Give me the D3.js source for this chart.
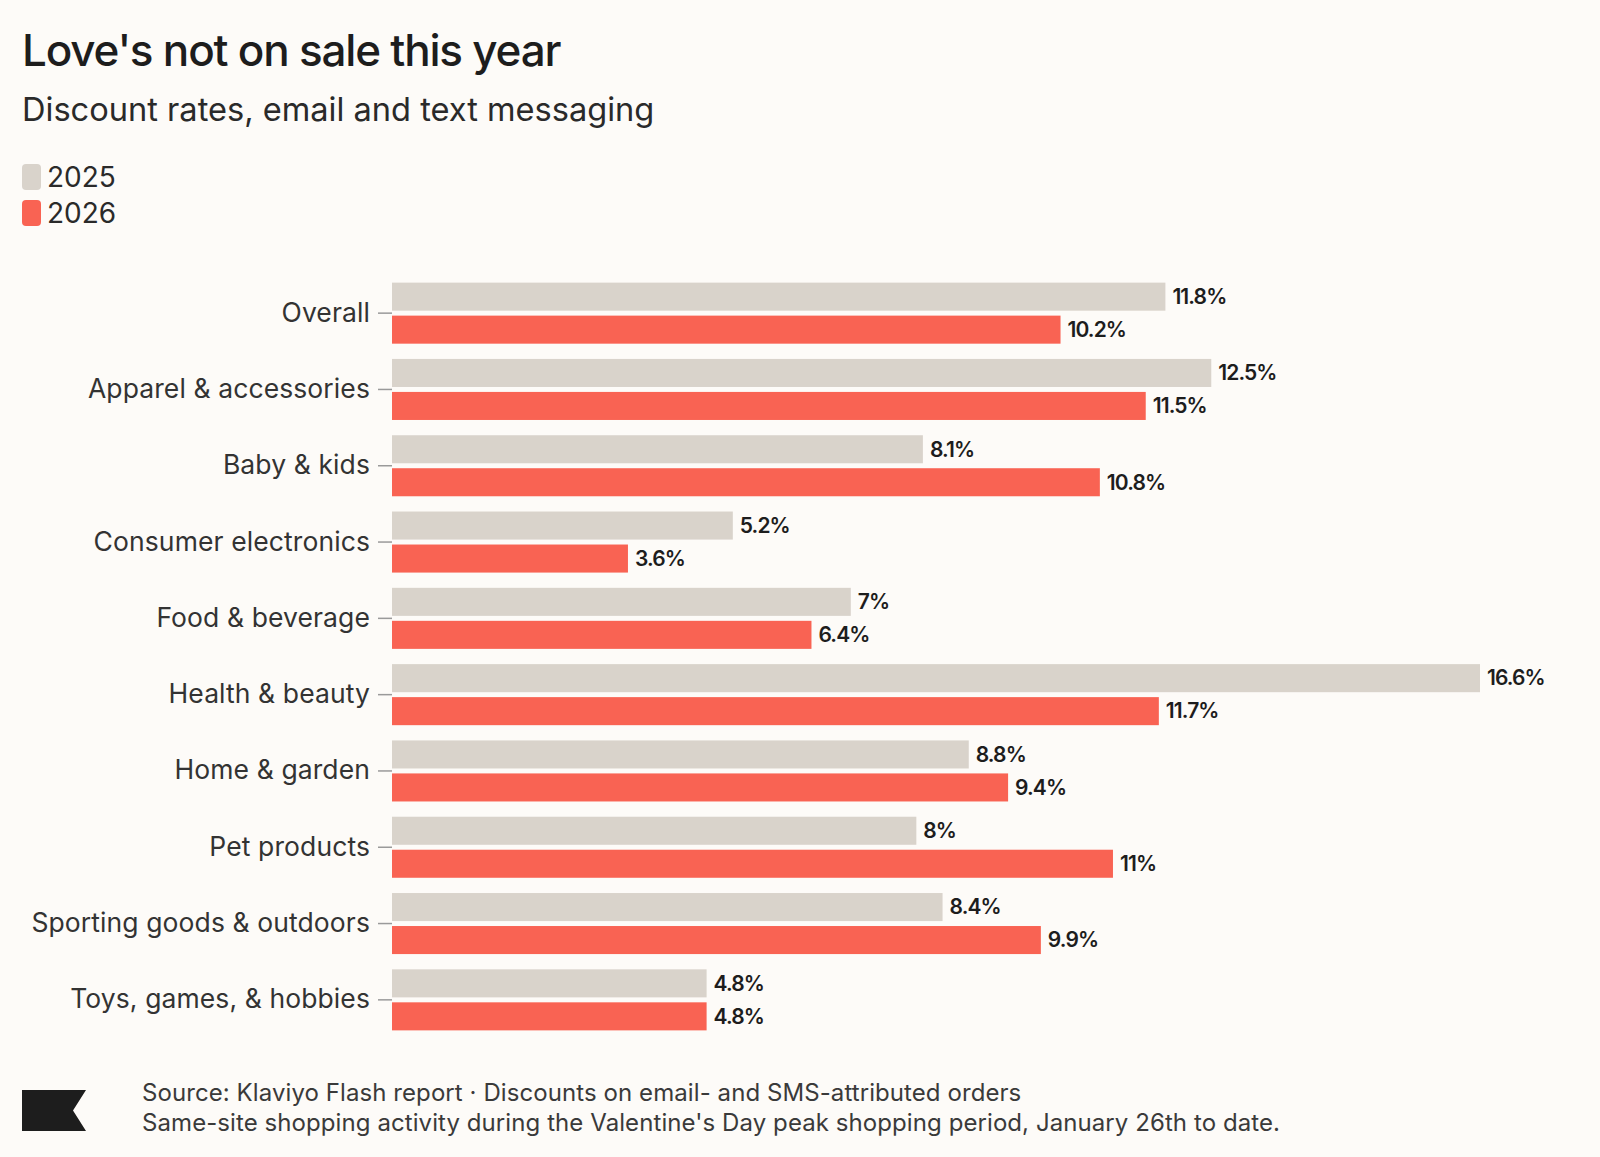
<!DOCTYPE html>
<html>
<head>
<meta charset="utf-8">
<script src="https://cdn.jsdelivr.net/npm/d3@7"></script>
<style>
  html, body { margin: 0; padding: 0; background: #fdfbf8; }
  svg { display: block; font-family: Inter, "Noto Sans", sans-serif; }
</style>
</head>
<body>
<svg id="chart" width="1600" height="1157"></svg>
<script>
// data
var categories = ["Overall", "Apparel & accessories", "Baby & kids", "Consumer electronics",
    "Food & beverage", "Health & beauty", "Home & garden", "Pet products",
    "Sporting goods & outdoors", "Toys, games, & hobbies"];
var years = ["2025", "2026"];
var values2025 = [11.8, 12.5, 8.1, 5.2, 7, 16.6, 8.8, 8, 8.4, 4.8];
var values2026 = [10.2, 11.5, 10.8, 3.6, 6.4, 11.7, 9.4, 11, 9.9, 4.8];
var colors = {"2025": "#d9d3cb", "2026": "#f96353"};

var svg = d3.select("#chart");
svg.append("rect").attr("width", 1600).attr("height", 1157).attr("fill", "#fdfbf8");

// title + subtitle
svg.append("text").attr("x", 22).attr("y", 66)
    .attr("font-size", 44).attr("font-weight", 500).attr("letter-spacing", -1.2)
    .attr("fill", "#1d1d1d").text("Love's not on sale this year");
svg.append("text").attr("x", 22).attr("y", 121)
    .attr("font-size", 32.6).attr("letter-spacing", 0)
    .attr("fill", "#2a2a2a").text("Discount rates, email and text messaging");

// legend
var legend = svg.append("g").selectAll("g").data(years).enter().append("g")
    .attr("transform", function(d, i) { return "translate(22," + (164 + i * 36) + ")"; });
legend.append("rect").attr("width", 19).attr("height", 26).attr("rx", 4)
    .attr("fill", function(d) { return colors[d]; });
legend.append("text").attr("x", 25).attr("y", 23)
    .attr("font-size", 28).attr("fill", "#2a2a2a").text(function(d) { return d; });

// scales
var x = d3.scaleLinear().domain([0, d3.max(values2025)]).range([392, 1480]);
var y = d3.scaleBand().domain(categories).range([275, 1038]).paddingInner(0.2).paddingOuter(0.1);
var ySub = d3.scaleBand().domain(years).range([0, y.bandwidth()]).paddingInner(0.15);

var rows = categories.map(function(c, i) {
    return {cat: c, vals: [{year: "2025", v: values2025[i]}, {year: "2026", v: values2026[i]}]};
});

// y axis
var yAxis = d3.axisLeft(y).tickSize(14).tickPadding(8);
var ax = svg.append("g").attr("transform", "translate(392,0)").call(yAxis);
ax.select(".domain").remove();
ax.selectAll(".tick line").attr("stroke", "#9a9a9a").attr("stroke-width", 1.5);
ax.selectAll(".tick text").attr("font-size", 26.5).attr("letter-spacing", 0.1).attr("fill", "#333")
    .attr("font-family", "Inter, 'Noto Sans', sans-serif");

// bars
var groups = svg.append("g").selectAll("g").data(rows).enter().append("g")
    .attr("transform", function(d) { return "translate(0," + y(d.cat) + ")"; });

groups.selectAll("rect").data(function(d) { return d.vals; }).enter().append("rect")
    .attr("x", x(0))
    .attr("y", function(d) { return ySub(d.year); })
    .attr("width", function(d) { return x(d.v) - x(0); })
    .attr("height", ySub.bandwidth())
    .attr("fill", function(d) { return colors[d.year]; });

groups.selectAll("text").data(function(d) { return d.vals; }).enter().append("text")
    .attr("x", function(d) { return x(d.v) + 7; })
    .attr("y", function(d) { return ySub(d.year) + ySub.bandwidth() / 2; })
    .attr("dy", "0.35em")
    .attr("font-size", 21).attr("font-weight", 600).attr("letter-spacing", -0.9)
    .attr("fill", "#1d1d1d")
    .text(function(d) { return d.v + "%"; });

// footer logo + source
svg.append("path").attr("d", "M22,1090H86L73,1110.5L86,1131H22Z").attr("fill", "#1d1d1d");
svg.append("text").attr("x", 142).attr("y", 1101)
    .attr("font-size", 24).attr("letter-spacing", 0.08).attr("fill", "#3a3a3a")
    .text("Source: Klaviyo Flash report \u00b7 Discounts on email- and SMS-attributed orders");
svg.append("text").attr("x", 142).attr("y", 1131)
    .attr("font-size", 24).attr("letter-spacing", 0.08).attr("fill", "#3a3a3a")
    .text("Same-site shopping activity during the Valentine's Day peak shopping period, January 26th to date.");
</script>
</body>
</html>
